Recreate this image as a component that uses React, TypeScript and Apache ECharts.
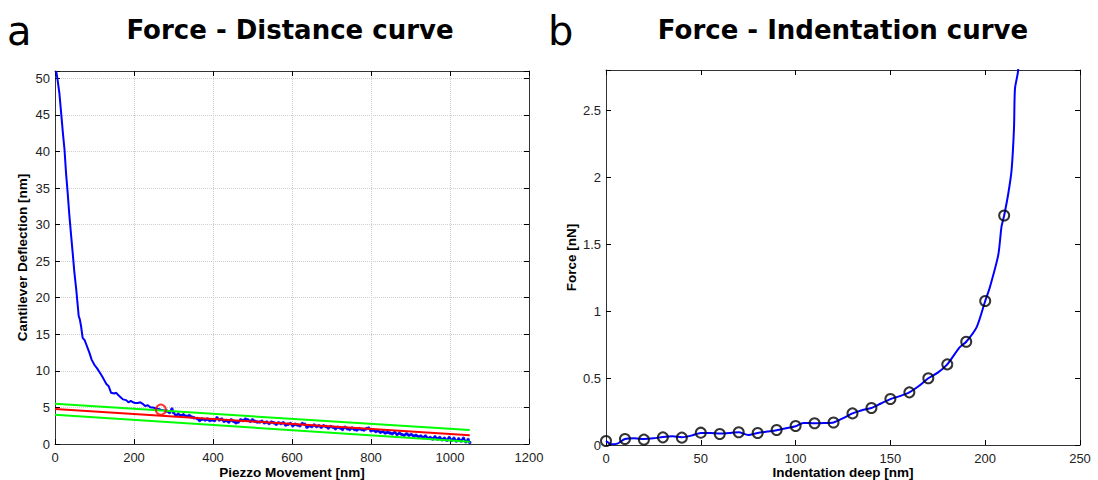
import React, { useEffect, useRef } from "react";
import * as echarts from "echarts";

// ---------- Panel a: Force - Distance curve ----------
const distX = [3, 6, 11, 16, 20, 24, 28, 32, 36, 41, 45, 49, 54, 60, 63, 66, 70, 75, 80, 87, 93, 100, 107, 113, 120, 126, 130, 136, 142, 150, 155, 160, 166, 172, 180, 186, 192, 197, 203, 210, 216, 222, 228, 235, 242, 248, 255, 262, 268, 276, 283, 290, 296, 300, 306, 312, 318, 325, 332, 340, 346, 352, 360, 366, 372, 380, 386, 392, 398, 404, 410, 416, 422, 428, 434, 440, 446, 452, 458, 464, 470, 476, 482, 488, 494, 500, 506, 512, 518, 524, 530, 536, 542, 548, 554, 560, 566, 572, 578, 584, 590, 596, 602, 608, 614, 620, 626, 632, 638, 644, 650, 656, 662, 668, 674, 680, 686, 692, 698, 704, 710, 716, 722, 728, 734, 740, 746, 752, 758, 764, 770, 776, 782, 788, 794, 800, 806, 812, 818, 824, 830, 836, 842, 848, 854, 860, 866, 872, 878, 884, 890, 896, 902, 908, 914, 920, 926, 932, 938, 944, 950, 956, 962, 968, 974, 980, 986, 992, 998, 1004, 1010, 1016, 1022, 1028, 1034, 1040, 1046, 1050];
const distY = [51, 50, 48, 45, 42.5, 40.3, 37, 34.4, 31.5, 28.4, 26, 23.5, 21, 17.5, 17, 16.1, 14.5, 14.2, 13.5, 12.5, 11.5, 10.8, 10.3, 9.8, 9.2, 8.6, 8.2, 7.9, 7.0, 6.9, 7.0, 6.7, 6.4, 6.1, 6.0, 5.7, 5.9, 5.7, 5.6, 5.6, 5.7, 5.5, 5.2, 5.3, 5.0, 5.0, 4.9, 4.8, 4.7, 4.6, 4.5, 4.3, 4.8, 4.3, 3.9, 4.1, 3.9, 4.0, 3.8, 3.9, 3.7, 3.6, 3.5, 3.2, 3.4, 3.3, 3.4, 3.2, 3.3, 3.2, 3.6, 3.3, 3.4, 3.1, 3.2, 3.0, 3.3, 3.1, 2.9, 3.0, 3.3, 3.2, 3.4, 3.3, 3.1, 3.3, 3.1, 3.0, 3.0, 3.1, 2.9, 3.0, 2.8, 3.0, 2.9, 2.7, 2.9, 2.8, 2.9, 2.6, 2.7, 2.8, 2.5, 2.7, 2.6, 2.5, 2.8, 2.7, 2.3, 2.5, 2.4, 2.6, 2.4, 2.5, 2.3, 2.5, 2.4, 2.2, 2.4, 2.3, 2.1, 2.3, 2.2, 2.0, 2.3, 2.1, 2.0, 2.2, 2.0, 1.9, 2.1, 2.0, 1.9, 2.1, 2.2, 1.8, 1.9, 1.7, 1.8, 1.6, 1.7, 1.5, 1.6, 1.5, 1.4, 1.6, 1.3, 1.5, 1.3, 1.2, 1.4, 1.2, 1.3, 1.1, 1.2, 1.0, 1.1, 0.9, 1.1, 0.8, 0.9, 0.7, 1.0, 0.7, 0.9, 0.6, 0.8, 0.5, 0.9, 0.5, 0.8, 0.4, 0.7, 0.4, 0.8, 0.3, 0.6, 0.2];
const dotStartX = 280; // blue sample dots visible along the flat (non-contact) part
const fitX = [0, 1050];
const fitRed = [4.8, 1.2];
const fitUpper = [5.5, 1.9];
const fitLower = [4.0, 0.3];
const contactPoint = [268, 4.7];

// ---------- Panel b: Force - Indentation curve ----------
const indentX = [0, 10, 20, 30, 40, 50, 60, 70, 80, 90, 100, 110, 120, 130, 140, 150, 160, 170, 180, 190, 200, 210];
const indentF = [0.03, 0.045, 0.04, 0.057, 0.055, 0.092, 0.082, 0.095, 0.09, 0.112, 0.142, 0.162, 0.168, 0.236, 0.276, 0.343, 0.393, 0.498, 0.602, 0.771, 1.075, 1.714];
const curveX = [0, 3, 6, 10, 15, 20, 25, 30, 35, 40, 45, 50, 55, 60, 65, 70, 75, 80, 85, 90, 95, 100, 104, 110, 115, 120, 125, 130, 135, 140, 145, 150, 155, 160, 165, 170, 175, 180, 186.6, 190, 195.5, 200, 202.5, 206.9, 208.6, 210, 212.2, 213.9, 215.2, 215.7, 217.4, 218.5];
const curveF = [0.03, 0.005, 0.01, 0.045, 0.05, 0.045, 0.05, 0.06, 0.065, 0.058, 0.07, 0.09, 0.09, 0.085, 0.09, 0.095, 0.075, 0.09, 0.1, 0.11, 0.125, 0.14, 0.165, 0.162, 0.164, 0.168, 0.2, 0.236, 0.26, 0.276, 0.31, 0.343, 0.365, 0.393, 0.44, 0.498, 0.54, 0.602, 0.73, 0.771, 0.88, 1.075, 1.18, 1.42, 1.63, 1.714, 1.88, 2.05, 2.37, 2.66, 2.8, 3.2];

const zip = (xs: number[], ys: number[]) => xs.map((x, i) => [x, ys[i]]);

const LABEL_FONT = "Liberation Sans, Arial, sans-serif";
const AXIS_COLOR = "#333";

function mkAxis(gridIndex: number, position: string, min: number, max: number, interval: number, opts: any = {}) {
  const main = position === "bottom" || position === "left";
  return {
    type: "value",
    gridIndex,
    position,
    min,
    max,
    interval,
    nameMoveOverlap: false,
    axisLine: { show: true, onZero: false, lineStyle: { color: AXIS_COLOR, width: 1 } },
    axisTick: { show: true, inside: true, length: 5, lineStyle: { color: "#000", width: 1 } },
    axisLabel: main
      ? {
          show: true,
          color: "#222",
          fontSize: 13,
          fontFamily: LABEL_FONT,
          margin: position === "bottom" ? 7 : 5,
          formatter: (v: number) => {
            const k = v / interval;
            return Math.abs(k - Math.round(k)) < 1e-6 ? String(+v.toFixed(4)) : "";
          },
        }
      : { show: false },
    splitLine: { show: false },
    ...opts,
  };
}

export default function App() {
  const ref = useRef<HTMLDivElement>(null);
  useEffect(() => {
    if (!ref.current) return;
    const chart = echarts.init(ref.current, undefined, { renderer: "svg" });
    const gridSplit = { show: true, lineStyle: { color: "#cfcfcf", type: "dotted", width: 1 } };
    const nameStyle = { fontWeight: "bold", fontSize: 13.5, fontFamily: LABEL_FONT, color: "#000" };
    const distData = zip(distX, distY);
    chart.setOption({
      animation: false,
      backgroundColor: "#fff",
      grid: [
        { left: 55, top: 71, width: 474, height: 373, show: false, containLabel: false, outerBoundsMode: "none" },
        { left: 606, top: 70, width: 474, height: 375, show: false, containLabel: false, outerBoundsMode: "none" },
      ],
      xAxis: [
        mkAxis(0, "bottom", 0, 1200, 200, {
          splitLine: gridSplit,
          name: "Piezzo Movement [nm]",
          nameLocation: "middle",
          nameGap: 21,
          nameTextStyle: nameStyle,
        }),
        mkAxis(0, "top", 0, 1200, 200),
        mkAxis(1, "bottom", 0, 250, 50, {
          name: "Indentation deep [nm]",
          nameLocation: "middle",
          nameGap: 20,
          nameTextStyle: nameStyle,
        }),
        mkAxis(1, "top", 0, 250, 50),
      ],
      yAxis: [
        mkAxis(0, "left", 0, 51, 5, {
          splitLine: gridSplit,
          name: "Cantilever Deflection [nm]",
          nameLocation: "middle",
          nameGap: 26,
          nameTextStyle: nameStyle,
        }),
        mkAxis(0, "right", 0, 51, 5),
        mkAxis(1, "left", 0, 2.8, 0.5, {
          name: "Force [nN]",
          nameLocation: "middle",
          nameGap: 28,
          nameTextStyle: nameStyle,
        }),
        mkAxis(1, "right", 0, 2.8, 0.5),
      ],
      series: [
        {
          type: "line",
          xAxisIndex: 0,
          yAxisIndex: 0,
          data: distData,
          showSymbol: false,
          lineStyle: { color: "#0000ff", width: 2 },
          z: 2,
        },
        {
          type: "scatter",
          xAxisIndex: 0,
          yAxisIndex: 0,
          data: distData.filter((p) => p[0] >= dotStartX),
          symbol: "circle",
          symbolSize: 3.5,
          itemStyle: { color: "#0000ff" },
          z: 2,
        },
        {
          type: "line",
          xAxisIndex: 0,
          yAxisIndex: 0,
          data: zip(fitX, fitUpper),
          showSymbol: false,
          lineStyle: { color: "#00ff00", width: 2 },
          z: 3,
        },
        {
          type: "line",
          xAxisIndex: 0,
          yAxisIndex: 0,
          data: zip(fitX, fitLower),
          showSymbol: false,
          lineStyle: { color: "#00ff00", width: 2 },
          z: 3,
        },
        {
          type: "line",
          xAxisIndex: 0,
          yAxisIndex: 0,
          data: zip(fitX, fitRed),
          showSymbol: false,
          lineStyle: { color: "#ff0000", width: 2 },
          z: 4,
        },
        {
          type: "scatter",
          xAxisIndex: 0,
          yAxisIndex: 0,
          data: [contactPoint],
          symbol: "circle",
          symbolSize: 10,
          itemStyle: { color: "rgba(0,0,0,0)", borderColor: "#ff0000", borderWidth: 2 },
          z: 5,
        },
        {
          type: "line",
          xAxisIndex: 2,
          yAxisIndex: 2,
          data: zip(curveX, curveF),
          showSymbol: false,
          smooth: 0.25,
          clip: true,
          lineStyle: { color: "#0000ff", width: 2 },
          z: 2,
        },
        {
          type: "scatter",
          xAxisIndex: 2,
          yAxisIndex: 2,
          data: zip(indentX, indentF),
          symbol: "circle",
          symbolSize: 10,
          itemStyle: { color: "rgba(0,0,0,0)", borderColor: "#000", borderWidth: 2 },
          z: 5,
        },
      ],
      graphic: [
        {
          type: "text",
          x: 7,
          y: 31,
          style: { text: "a", font: "40px DejaVu Sans", fill: "#000", textAlign: "left", textVerticalAlign: "middle", align: "left", verticalAlign: "middle" },
        },
        {
          type: "text",
          x: 290,
          y: 30,
          style: { text: "Force - Distance curve", font: "bold 26px DejaVu Sans", fill: "#000", textAlign: "center", textVerticalAlign: "middle", align: "center", verticalAlign: "middle" },
        },
        {
          type: "text",
          x: 548,
          y: 31,
          style: { text: "b", font: "40px DejaVu Sans", fill: "#000", textAlign: "left", textVerticalAlign: "middle", align: "left", verticalAlign: "middle" },
        },
        {
          type: "text",
          x: 843,
          y: 30,
          style: { text: "Force - Indentation curve", font: "bold 26px DejaVu Sans", fill: "#000", textAlign: "center", textVerticalAlign: "middle", align: "center", verticalAlign: "middle" },
        },
      ],
    });
    return () => chart.dispose();
  }, []);
  return <div ref={ref} style={{ position: "fixed", left: 0, top: 0, width: 1098, height: 480, background: "#fff" }} />;
}
